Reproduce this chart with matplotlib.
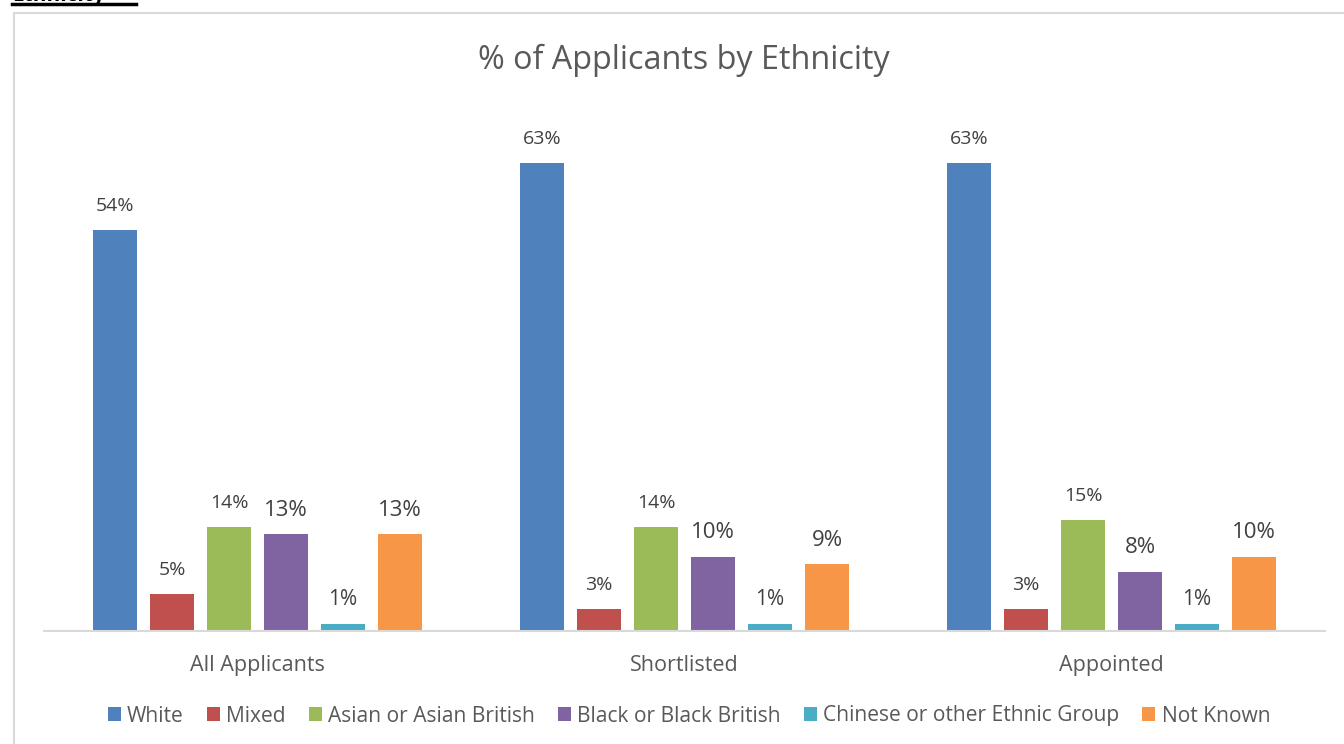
import matplotlib
matplotlib.use("Agg")
import matplotlib.pyplot as plt
from matplotlib.patches import Patch, Rectangle
from matplotlib.lines import Line2D
import numpy as np

plt.rcParams['font.family'] = ['Open Sans', 'DejaVu Sans']

groups = ["All Applicants", "Shortlisted", "Appointed"]
series = ["White", "Mixed", "Asian or Asian British", "Black or Black British",
          "Chinese or other Ethnic Group", "Not Known"]
colors = ["#4F81BD", "#C0504D", "#9BBB59", "#8064A2", "#4BACC6", "#F79646"]
values = {
    "White": [54, 63, 63],
    "Mixed": [5, 3, 3],
    "Asian or Asian British": [14, 14, 15],
    "Black or Black British": [13, 10, 8],
    "Chinese or other Ethnic Group": [1, 1, 1],
    "Not Known": [13, 9, 10],
}
# label font sizes differ per series, as in the source workbook
label_sizes = {
    "White": 14,
    "Mixed": 14,
    "Asian or Asian British": 14,
    "Black or Black British": 16,
    "Chinese or other Ethnic Group": 15,
    "Not Known": 16,
}

W, H = 1344, 744
fig = plt.figure(figsize=(W / 100, H / 100), dpi=100)
fig.patch.set_facecolor("white")

# chart frame
fig.patches.append(Rectangle((14 / W, -0.1), 1.2, 1 - 13 / H + 0.1,
                             transform=fig.transFigure, fill=False,
                             edgecolor="#D9D9D9", linewidth=1.5))

# heading above the chart (mostly outside the page)
fig.text(12 / W, 1 - 0.5 / H, "Ethnicity", fontsize=15, fontweight="bold",
         ha="left", va="baseline", color="black")
fig.lines.append(Line2D([12 / W, 136 / W], [1 - 4 / H, 1 - 4 / H],
                        transform=fig.transFigure, color="black", linewidth=2.5))

ax = fig.add_axes([44 / W, 1 - 631 / H, (1325 - 44) / W, 520 / H])
x = np.arange(len(groups))
slot = 57 / 427
bw = 44 / 427
for i, s in enumerate(series):
    offs = (i - 2.5) * slot
    bars = ax.bar(x + offs, values[s], width=bw, color=colors[i], zorder=2)
    for j, b in enumerate(bars):
        v = values[s][j]
        ax.text(b.get_x() + b.get_width() / 2, v + 24 / 7.43, f"{v}%",
                ha="center", va="center", fontsize=label_sizes[s],
                color="#404040")

ax.set_xlim(-0.5, 2.5)
ax.set_ylim(0, 520 / 7.43)
for sp in ["top", "right", "left"]:
    ax.spines[sp].set_visible(False)
ax.spines["bottom"].set_color("#D9D9D9")
ax.spines["bottom"].set_linewidth(1.5)
ax.set_yticks([])
ax.set_xticks(x)
ax.set_xticklabels(groups, fontsize=15.5, color="#595959")
ax.tick_params(axis="x", length=0, pad=17)

fig.text(684 / W, 1 - 60 / H, "% of Applicants by Ethnicity", fontsize=23.3,
         ha="center", va="center", color="#595959")

handles = [Patch(facecolor=c, edgecolor="none") for c in colors]
fig.legend(handles, series, loc="center", bbox_to_anchor=(689 / W, 1 - 716 / H),
           ncol=6, frameon=False, fontsize=15.1, handlelength=0.62,
           handleheight=0.62, handletextpad=0.3, columnspacing=1.1,
           labelcolor="#595959")

fig.savefig("out.png", dpi=100)
